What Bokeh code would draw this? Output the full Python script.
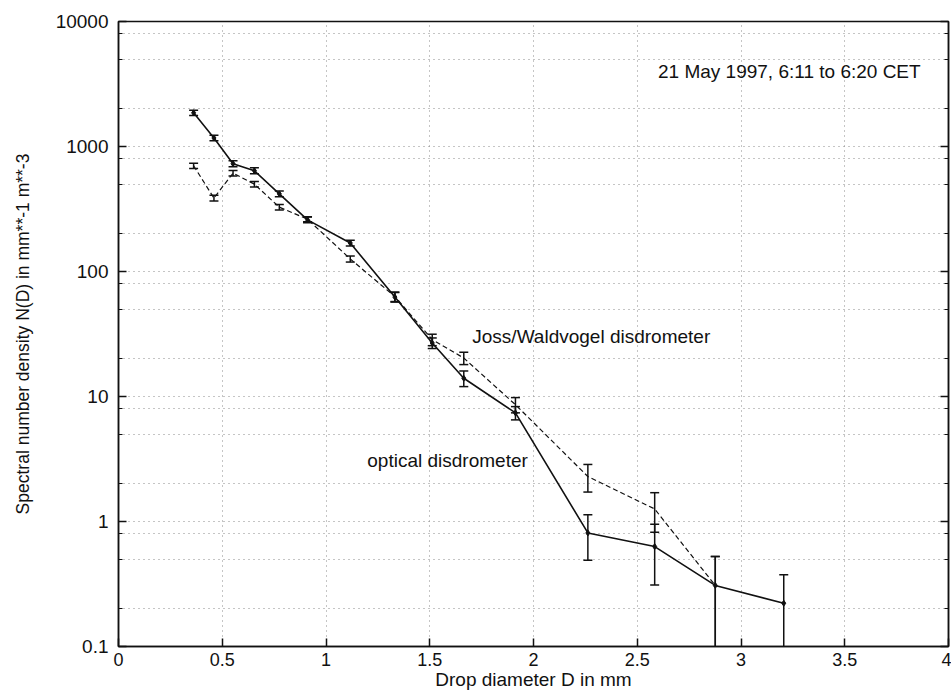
from bokeh.plotting import figure
from bokeh.models import (FixedTicker, LogAxis, NumeralTickFormatter, Label,
                          ColumnDataSource, CustomJSTickFormatter)
from bokeh.embed import file_html
from bokeh.resources import INLINE

# Drop diameter classes (mm)
D = [0.362, 0.46, 0.552, 0.655, 0.775, 0.911, 1.117, 1.332, 1.512, 1.664, 1.913, 2.262, 2.584, 2.876, 3.206]

# Optical disdrometer: N(D) and error half-widths
N_OPT = [1860, 1170, 728, 640, 418, 259, 169, 62.4, 26.8, 14.0, 7.4, 0.81, 0.63, 0.308, 0.222]
E_OPT = [90, 60, 40, 35, 22, 14, 9, 5.5, 2.6, 2.0, 0.9, 0.32, 0.32, 0.217, 0.153]

# Joss/Waldvogel disdrometer: N(D) and error half-widths (14 classes)
N_JW = [701, 387, 612, 500, 327, 262, 126, 63, 28.5, 20.3, 8.6, 2.29, 1.26, 0.308]
E_JW = [35, 20, 30, 25, 17, 12, 7, 5.5, 3.0, 2.3, 1.2, 0.57, 0.44, 0.217]

X_TICKS = [0, 0.5, 1, 1.5, 2, 2.5, 3, 3.5, 4]
Y_TICKS = [0.1, 1, 10, 100, 1000, 10000]
Y_MINOR_FACTORS = [2, 5, 8]

FONT = "Liberation Sans"
INK = "#111111"
GRID = "#8a8a8a"

y_minor = [t * f for t in Y_TICKS[:-1] for f in Y_MINOR_FACTORS]
yticker = FixedTicker(ticks=Y_TICKS, minor_ticks=y_minor)
xticker = FixedTicker(ticks=X_TICKS)

p = figure(width=951, height=693, x_range=(0, 4), y_range=(0.1, 10000),
           y_axis_type="log", output_backend="svg", toolbar_location=None,
           min_border_left=118, min_border_right=3, min_border_top=21,
           min_border_bottom=47, background_fill_color="white",
           border_fill_color="white")

p.outline_line_color = INK
p.outline_line_width = 1.5

# axes
p.xaxis.ticker = xticker
p.xaxis.formatter = NumeralTickFormatter(format="0.[0]")
p.yaxis.ticker = yticker
p.yaxis.formatter = NumeralTickFormatter(format="0.[0]")
for ax in (p.xaxis, p.yaxis):
    ax.major_tick_in = 8
    ax.major_tick_out = 0
    ax.minor_tick_in = 4
    ax.minor_tick_out = 0
    ax.axis_line_color = INK
    ax.axis_line_width = 1.5
    ax.major_tick_line_color = INK
    ax.major_tick_line_width = 1.5
    ax.minor_tick_line_color = INK
    ax.major_label_text_font = FONT
    ax.major_label_text_font_size = "19px"
    ax.major_label_text_color = INK
    ax.axis_label_text_font = FONT
    ax.axis_label_text_font_size = "17.5px"
    ax.axis_label_text_font_style = "normal"
    ax.axis_label_text_color = INK
p.xaxis.minor_tick_line_color = None
p.xaxis.major_label_text_font_size = "18px"
p.xaxis.axis_label_text_font_size = "19px"
p.xaxis.major_label_standoff = 6
p.xaxis.axis_label_standoff = 0
p.yaxis.major_label_standoff = 10
p.yaxis.axis_label_standoff = 20
p.xaxis.axis_label = "Drop diameter D in mm"
p.yaxis.axis_label = "Spectral number density N(D) in mm**-1 m**-3"

right = LogAxis(ticker=yticker, formatter=CustomJSTickFormatter(code="return ''"),
                major_label_text_font_size="1px",
                major_label_standoff=0, major_tick_in=8, major_tick_out=0,
                minor_tick_in=4, minor_tick_out=0, axis_line_color=INK,
                axis_line_width=1.5, major_tick_line_color=INK,
                major_tick_line_width=1.5, minor_tick_line_color=INK)
p.add_layout(right, "right")

# grid
p.xgrid.ticker = xticker
p.ygrid.ticker = yticker
for g in (p.xgrid, p.ygrid):
    g.grid_line_color = GRID
    g.grid_line_dash = "1 4"
    g.grid_line_width = 1
p.ygrid.minor_grid_line_color = GRID
p.ygrid.minor_grid_line_dash = "1 4"
p.ygrid.minor_grid_line_width = 1

# data sources
src_opt = ColumnDataSource(dict(
    x=D, y=N_OPT,
    lo=[n - e for n, e in zip(N_OPT, E_OPT)],
    hi=[n + e for n, e in zip(N_OPT, E_OPT)]))
src_jw = ColumnDataSource(dict(
    x=D[:len(N_JW)], y=N_JW,
    lo=[n - e for n, e in zip(N_JW, E_JW)],
    hi=[n + e for n, e in zip(N_JW, E_JW)]))

# lines
p.line("x", "y", source=src_opt, line_color=INK, line_width=1.6)
p.line("x", "y", source=src_jw, line_color=INK, line_width=1.2, line_dash="5 3")

# error bars
for src in (src_opt, src_jw):
    p.segment(x0="x", y0="lo", x1="x", y1="hi", source=src,
              line_color=INK, line_width=1.5)
    p.scatter(x="x", y="lo", source=src, marker="dash", size=9,
              line_color=INK, line_width=1.5)
    p.scatter(x="x", y="hi", source=src, marker="dash", size=9,
              line_color=INK, line_width=1.5)

# small filled markers for the optical series points
p.scatter("x", "y", source=src_opt, marker="diamond", size=6,
          fill_color=INK, line_color=INK)

# annotations
p.add_layout(Label(x=2.6, y=3960, text="21 May 1997, 6:11 to 6:20 CET",
                   text_font=FONT, text_font_size="19px", text_color=INK,
                   text_baseline="middle"))
p.add_layout(Label(x=1.705, y=30, text="Joss/Waldvogel disdrometer",
                   text_font=FONT, text_font_size="19px", text_color=INK,
                   text_baseline="middle"))
p.add_layout(Label(x=1.199, y=3.06, text="optical disdrometer",
                   text_font=FONT, text_font_size="19px", text_color=INK,
                   text_baseline="middle"))

open("out.html", "w").write(file_html(p, INLINE))
